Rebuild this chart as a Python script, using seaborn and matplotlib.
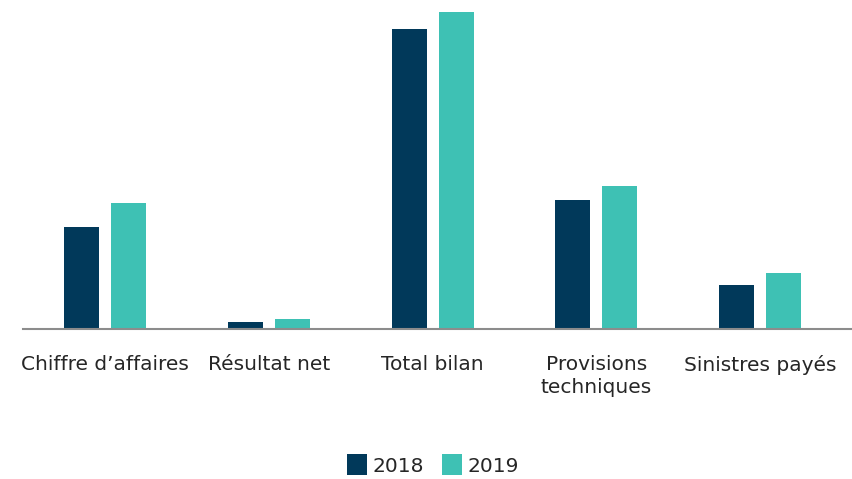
import matplotlib.pyplot as plt
import pandas as pd
import seaborn as sns

categories = ['Chiffre d\u2019affaires', 'Résultat net', 'Total bilan', 'Provisions\ntechniques', 'Sinistres payés']
values_2018 = [102, 7, 300, 129, 44]
values_2019 = [126, 10, 317, 143, 56]
years = ['2018', '2019']

df = pd.DataFrame({
    'categorie': categories * 2,
    'valeur': values_2018 + values_2019,
    'annee': [years[0]] * 5 + [years[1]] * 5,
})

sns.set_style('white')
plt.rcParams['font.family'] = ['DejaVu Sans']

fig = plt.figure(figsize=(8.52, 4.79), dpi=100)
ax = fig.add_axes([23 / 852, 150 / 479, 1 - 23 / 852, 329 / 479])

sns.barplot(data=df, x='categorie', y='valeur', hue='annee',
            palette=['#01395a', '#3ec1b4'], width=0.573, gap=0.255,
            saturation=1, linewidth=0, ax=ax)

ax.set_xlim(-0.5, 4.56)
ax.set_ylim(0, 329)
ax.set_xlabel('')
ax.set_ylabel('')
ax.set_yticks([])
for s in ['top', 'right', 'left']:
    ax.spines[s].set_visible(False)
ax.spines['bottom'].set_color('#8c8c8c')
ax.spines['bottom'].set_linewidth(1.5)
ax.tick_params(axis='x', length=0, pad=19, labelsize=14.5, labelcolor='#262626')
for t in ax.get_xticklabels():
    t.set_linespacing(1.25)

ax.legend(loc='center', bbox_to_anchor=(433 / 852, 1 - 465 / 479),
          bbox_transform=fig.transFigure, ncol=2, frameon=False,
          fontsize=14.5, handlelength=1.0, handleheight=1.2,
          handletextpad=0.25, columnspacing=0.9, labelcolor='#262626')

fig.savefig('out.png', dpi=100)
